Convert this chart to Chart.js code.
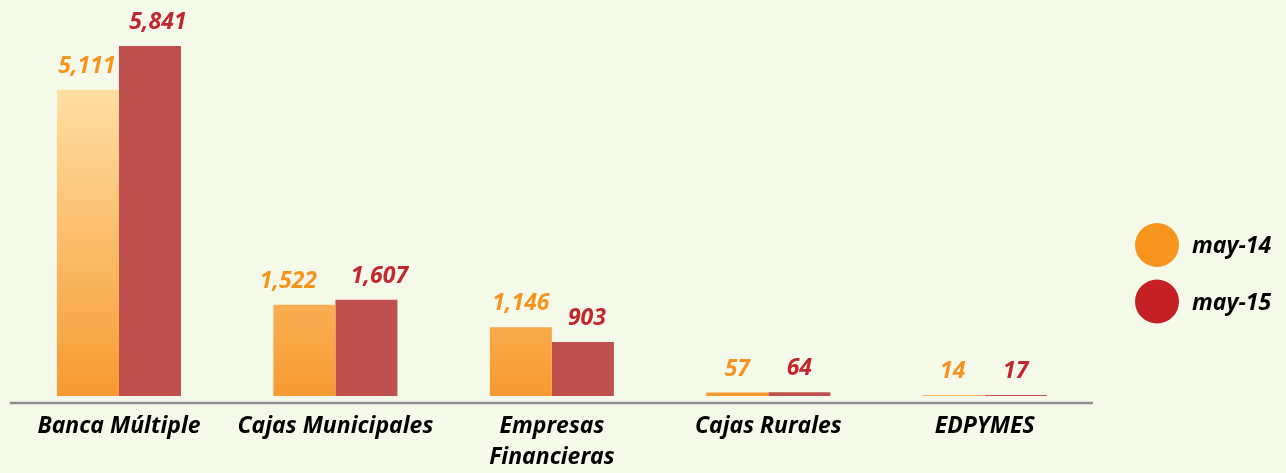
<!DOCTYPE html>
<html>
<head>
<meta charset="utf-8">
<script src="https://cdn.jsdelivr.net/npm/chart.js@4/dist/chart.umd.min.js"></script>
<style>
  html, body { margin: 0; padding: 0; background: #F4F9E9; }
  #myChart { display: block; }
</style>
</head>
<body>
<canvas id="myChart" width="1286" height="473"></canvas>
<script>
// data
var categories = ["Banca Múltiple", "Cajas Municipales", ["Empresas", "Financieras"], "Cajas Rurales", "EDPYMES"];
var seriesNames = ["may-14", "may-15"];
var may14 = [5111, 1522, 1146, 57, 14];
var may15 = [5841, 1607, 903, 64, 17];

// small horizontal nudges for the value labels (as placed in the original)
var labelShift14 = [-1, -16, 0, 0, -1];
var labelShift15 = [8, 13, 4, 0, 0];

var legendColors = ["#F7941D", "#C42026"];
var labelColors = ["#F7941D", "#C1272D"];
var fontFamily = "'Open Sans', Lato, sans-serif";

var orangeGradient = null;
function orangeFill(context) {
  var chart = context.chart;
  var area = chart.chartArea;
  if (!area) return "#F79A30";
  if (!orangeGradient) {
    var top = chart.scales.y.getPixelForValue(may14[0]);
    orangeGradient = chart.ctx.createLinearGradient(0, top, 0, area.bottom);
    orangeGradient.addColorStop(0, "#FFDFA3");
    orangeGradient.addColorStop(1, "#F79A30");
  }
  return orangeGradient;
}

// axis line, value labels and legend
var extras = {
  id: "extras",
  afterDatasetsDraw: function (chart) {
    var ctx = chart.ctx;
    var area = chart.chartArea;
    ctx.save();

    // base line under the bars
    ctx.strokeStyle = "#8E8E8E";
    ctx.lineWidth = 2.5;
    ctx.beginPath();
    ctx.moveTo(area.left - 1, area.bottom + 7);
    ctx.lineTo(area.right, area.bottom + 7);
    ctx.stroke();

    // value labels
    var shifts = [labelShift14, labelShift15];
    ctx.font = "italic bold 23px " + fontFamily;
    ctx.textAlign = "center";
    ctx.textBaseline = "alphabetic";
    chart.data.datasets.forEach(function (ds, d) {
      var meta = chart.getDatasetMeta(d);
      ctx.fillStyle = labelColors[d];
      meta.data.forEach(function (bar, i) {
        ctx.fillText(ds.data[i].toLocaleString("en-US"), bar.x + shifts[d][i], bar.y - 17);
      });
    });

    // legend
    var cx = chart.width - 129;
    var cy = area.bottom - 151;
    ctx.font = "italic bold 23px " + fontFamily;
    ctx.textAlign = "left";
    seriesNames.forEach(function (name, d) {
      var y = cy + d * 56.5;
      ctx.fillStyle = legendColors[d];
      ctx.beginPath();
      ctx.arc(cx, y, 22, 0, Math.PI * 2);
      ctx.fill();
      ctx.fillStyle = "#000000";
      ctx.fillText(name, cx + 35, y + 8);
    });

    ctx.restore();
  }
};

var ctx = document.getElementById("myChart").getContext("2d");
var chart = new Chart(ctx, {
  type: "bar",
  data: {
    labels: categories,
    datasets: [
      {
        label: seriesNames[0],
        data: may14,
        backgroundColor: orangeFill,
        borderWidth: 0,
        categoryPercentage: 0.573,
        barPercentage: 1
      },
      {
        label: seriesNames[1],
        data: may15,
        backgroundColor: "#C0504D",
        borderWidth: 0,
        categoryPercentage: 0.573,
        barPercentage: 1
      }
    ]
  },
  options: {
    responsive: false,
    animation: false,
    layout: {
      padding: { left: 10.75, right: 193, top: 6.5, bottom: 0 }
    },
    plugins: {
      legend: { display: false },
      tooltip: { enabled: false }
    },
    scales: {
      x: {
        grid: { display: false, drawTicks: false },
        border: { display: false },
        ticks: {
          color: "#000000",
          font: { family: fontFamily, size: 23, weight: "bold", style: "italic", lineHeight: 1.35 },
          padding: 14.5,
          maxRotation: 0,
          autoSkip: false
        },
        afterFit: function (scale) { scale.height = 77; }
      },
      y: {
        display: false,
        min: 0,
        max: 6500
      }
    }
  },
  plugins: [extras]
});
</script>
</body>
</html>
